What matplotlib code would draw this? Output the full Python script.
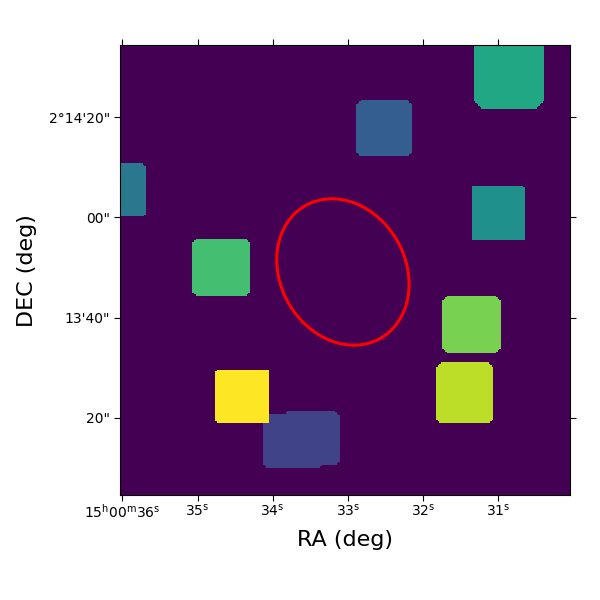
import matplotlib
matplotlib.use("Agg")
import matplotlib.pyplot as plt
from matplotlib.patches import Ellipse
import numpy as np

# segmentation regions: RA in seconds (15h00m + s), DEC in arcsec past 2d13'
labels = [2, 2, 3, 4, 5, 6, 7, 8, 9, 10]
ra_east = [34.125, 33.860, 32.883, 36.10, 31.350, 31.323, 35.069, 31.749, 31.833, 34.754]
ra_west = [33.330, 33.109, 32.144, 35.690, 30.641, 30.383, 34.302, 30.955, 31.066, 34.045]
dec_north = [20.88, 21.28, 83.03, 70.43, 66.10, 97.00, 55.57, 44.15, 30.90, 29.60]
dec_south = [9.85, 10.51, 71.98, 60.10, 55.17, 81.30, 44.11, 32.64, 18.82, 18.82]
corner = [0.8, 0.8, 0.8, 0.4, 0.4, 1.6, 0.8, 1.2, 1.0, 0.4]

ra_limits = [36.027, 30.043]
dec_limits = [4.57, 94.3]

ra_ticks = [36, 35, 34, 33, 32, 31]
ra_ticklabels = ["15$^{\\mathrm{h}}$00$^{\\mathrm{m}}$36$^{\\mathrm{s}}$", "35$^{\\mathrm{s}}$", "34$^{\\mathrm{s}}$",
                 "33$^{\\mathrm{s}}$", "32$^{\\mathrm{s}}$", "31$^{\\mathrm{s}}$"]
dec_ticks = [80, 60, 40, 20]
dec_ticklabels = ["2\u00b014'20\"", "00\"", "13'40\"", "20\""]

ellipse_ra = 33.067
ellipse_dec = 49.1
ellipse_major = 30.4
ellipse_minor = 25.0
ellipse_angle = 60.6


def make_image(cell=0.3):
    x_lim = [ra_limits[0] * 15, ra_limits[1] * 15]
    xs = np.arange(x_lim[1], x_lim[0], cell) + cell / 2
    ys = np.arange(dec_limits[0], dec_limits[1], cell) + cell / 2
    xx, yy = np.meshgrid(xs, ys)
    img = np.zeros(xx.shape)
    for i in range(len(labels)):
        x0, x1 = ra_west[i] * 15, ra_east[i] * 15
        y0, y1 = dec_south[i], dec_north[i]
        c = corner[i]
        inside = (xx >= x0) & (xx <= x1) & (yy >= y0) & (yy <= y1)
        # cut the corners
        dx = np.minimum(xx - x0, x1 - xx)
        dy = np.minimum(yy - y0, y1 - yy)
        inside &= (dx + dy) >= c
        img[inside] = labels[i]
    return img, xs, ys, cell


fig = plt.figure(figsize=(6, 6), dpi=100)
ax = fig.add_axes([0.2005, 0.1745, 0.75, 0.75])

img, xs, ys, cell = make_image()
ax.imshow(img, origin="lower", cmap="viridis", vmin=0, vmax=10, interpolation="nearest",
          extent=[xs[0] - cell / 2, xs[-1] + cell / 2, ys[0] - cell / 2, ys[-1] + cell / 2], aspect="auto")
ax.add_patch(Ellipse((ellipse_ra * 15, ellipse_dec), ellipse_major, ellipse_minor, angle=ellipse_angle,
                     fill=False, edgecolor="red", linewidth=2.2))

ax.set_xlim(ra_limits[0] * 15, ra_limits[1] * 15)
ax.set_ylim(dec_limits)
ax.set_xticks(np.array(ra_ticks) * 15)
ax.set_xticklabels(ra_ticklabels)
ax.set_yticks(dec_ticks)
ax.set_yticklabels(dec_ticklabels)
ax.tick_params(direction="out", length=4, top=True, right=True, labelsize=10)
ax.tick_params(axis="x", pad=1.5)
ax.tick_params(axis="y", pad=3.5)
ax.set_xlabel("RA (deg)", fontsize=16, labelpad=6.5)
ax.set_ylabel("DEC (deg)", fontsize=16, labelpad=8.5)

fig.savefig("out.png", dpi=100)
